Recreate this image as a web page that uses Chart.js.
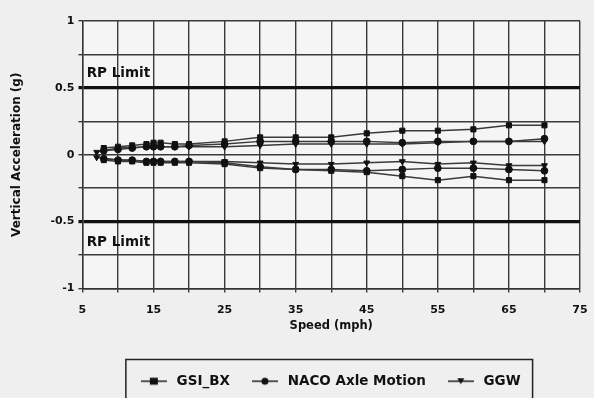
<!DOCTYPE html>
<html>
<head>
<meta charset="utf-8">
<script src="https://cdn.jsdelivr.net/npm/chart.js@4/dist/chart.umd.min.js"></script>
<style>
html,body{margin:0;padding:0;background:#efefef;}
#wrap{width:594px;height:398px;position:relative;}
</style>
</head>
<body>
<div id="wrap"><canvas id="c" width="594" height="398"></canvas></div>
<script>
// ---- data ----
const speeds = [8, 10, 12, 14, 15, 16, 18, 20, 25, 30, 35, 40, 45, 50, 55, 60, 65, 70];
const gsiUpper = [0.05, 0.06, 0.07, 0.08, 0.09, 0.09, 0.08, 0.08, 0.10, 0.13, 0.13, 0.13, 0.16, 0.18, 0.18, 0.19, 0.22, 0.22];
const gsiLower = [-0.04, -0.05, -0.05, -0.06, -0.06, -0.06, -0.06, -0.06, -0.07, -0.10, -0.11, -0.12, -0.13, -0.16, -0.19, -0.16, -0.19, -0.19];
const nacoUpper = [0.03, 0.04, 0.05, 0.06, 0.06, 0.06, 0.06, 0.07, 0.08, 0.10, 0.10, 0.10, 0.10, 0.09, 0.10, 0.10, 0.10, 0.12];
const nacoLower = [-0.03, -0.04, -0.04, -0.05, -0.05, -0.05, -0.05, -0.05, -0.06, -0.09, -0.11, -0.11, -0.12, -0.11, -0.10, -0.10, -0.11, -0.12];
const ggwSpeeds = [7, 10, 15, 20, 25, 30, 35, 40, 45, 50, 55, 60, 65, 70];
const ggwUpper = [0.02, 0.05, 0.06, 0.06, 0.06, 0.07, 0.08, 0.08, 0.08, 0.08, 0.09, 0.10, 0.10, 0.10];
const ggwLower = [-0.02, -0.04, -0.05, -0.05, -0.05, -0.06, -0.07, -0.07, -0.06, -0.05, -0.07, -0.06, -0.08, -0.08];
const seriesNames = ['GSI_BX', 'NACO Axle Motion', 'GGW'];
const limitValues = [0.5, -0.5];
const limitLabel = 'RP Limit';
const limitLabelPos = [{x: 5.6, y: 0.61}, {x: 5.6, y: -0.655}];
const xLabelTicks = [5, 15, 25, 35, 45, 55, 65, 75];
const yLabelTicks = [1, 0.5, 0, -0.5, -1];

const toPts = (xs, ys) => xs.map((x, i) => ({x: x, y: ys[i]}));

function legendIcon(style) {
  const cv = document.createElement('canvas');
  cv.width = 26; cv.height = 10;
  const g = cv.getContext('2d');
  g.strokeStyle = '#222'; g.lineWidth = 1.5;
  g.beginPath(); g.moveTo(0, 5); g.lineTo(26, 5); g.stroke();
  g.fillStyle = '#111';
  if (style === 'rect') { g.fillRect(9, 1.5, 8, 7); }
  else if (style === 'circle') { g.beginPath(); g.arc(13, 5, 3.5, 0, Math.PI * 2); g.fill(); }
  else { g.beginPath(); g.moveTo(9.5, 2); g.lineTo(16.5, 2); g.lineTo(13, 8); g.closePath(); g.fill(); }
  return cv;
}
const icons = [legendIcon('rect'), legendIcon('circle'), legendIcon('tri')];

function ds(label, data, style, rot, hidden) {
  return {
    label: label, data: data, showLine: true,
    borderColor: '#3a3a3a', borderWidth: 1.5,
    backgroundColor: '#111', pointBackgroundColor: '#111', pointBorderColor: '#111',
    pointStyle: style, pointRotation: rot || 0, pointRadius: style === 'rect' ? 3.6 : 3.4, pointBorderWidth: 1,
    legendHidden: hidden
  };
}

const datasets = [
  ds(seriesNames[0], toPts(speeds, gsiUpper), 'rect', 0, false),
  ds(seriesNames[1], toPts(speeds, nacoUpper), 'circle', 0, false),
  ds(seriesNames[2], toPts(ggwSpeeds, ggwUpper), 'triangle', 180, false),
  ds(seriesNames[0], toPts(speeds, gsiLower), 'rect', 0, true),
  ds(seriesNames[1], toPts(speeds, nacoLower), 'circle', 0, true),
  ds(seriesNames[2], toPts(ggwSpeeds, ggwLower), 'triangle', 180, true)
];

const FONT = "'DejaVu Sans', Verdana, sans-serif";

const decor = {
  id: 'decor',
  afterLayout(chart) {
    const lg = chart.legend, a = chart.chartArea;
    if (!lg || !lg.legendHitBoxes) return;
    const dx = (a.left + a.right) / 2 - (lg.left + lg.right) / 2 - 2;
    lg.left += dx; lg.right += dx;
    lg.legendHitBoxes.forEach(h => { h.left += dx; });
  },
  beforeDraw(chart) {
    const {ctx, chartArea: a} = chart;
    ctx.save();
    ctx.fillStyle = '#f5f5f5';
    ctx.fillRect(a.left, a.top, a.right - a.left, a.bottom - a.top);
    ctx.restore();
  },
  afterDatasetsDraw(chart) {
    const {ctx, scales} = chart;
    ctx.save();
    ctx.fillStyle = '#111';
    ctx.font = 'bold 13.5px ' + FONT;
    ctx.textAlign = 'left'; ctx.textBaseline = 'middle';
    limitLabelPos.forEach(p => ctx.fillText(limitLabel, scales.x.getPixelForValue(p.x), scales.y.getPixelForValue(p.y)));
    ctx.restore();
  },
  afterDraw(chart) {
    const lg = chart.legend;
    if (!lg || !lg.legendHitBoxes || !lg.legendHitBoxes.length) return;
    const hb = lg.legendHitBoxes;
    const l = hb[0].left - 12;
    const r = hb[hb.length - 1].left + hb[hb.length - 1].width + 12;
    const t = hb[0].top - 15;
    const ctx = chart.ctx;
    ctx.save();
    ctx.strokeStyle = '#222'; ctx.lineWidth = 1.5;
    ctx.beginPath();
    ctx.moveTo(l, 400); ctx.lineTo(l, t); ctx.lineTo(r, t); ctx.lineTo(r, 400);
    ctx.stroke();
    ctx.restore();
  }
};

new Chart(document.getElementById('c'), {
  type: 'scatter',
  data: {datasets: datasets},
  plugins: [decor],
  options: {
    responsive: false, animation: false,
    layout: {padding: {top: 21, right: 0, left: 10, bottom: 0}},
    plugins: {
      tooltip: {enabled: false},
      legend: {
        position: 'bottom',
        labels: {
          color: '#111', font: {family: FONT, size: 13.5, weight: 'bold'},
          usePointStyle: true, pointStyleWidth: 32, padding: 19,
          filter: (item, data) => !data.datasets[item.datasetIndex].legendHidden,
          generateLabels: (chart) => chart.data.datasets.map((d, i) => ({
            text: d.label, datasetIndex: i, pointStyle: icons[i % 3],
            fillStyle: '#111', strokeStyle: '#111', lineWidth: 0, fontColor: '#111', hidden: false
          }))
        }
      }
    },
    scales: {
      x: {
        type: 'linear', min: 5, max: 75,
        afterFit: s => { s.paddingRight = 14; },
        ticks: {
          stepSize: 5, autoSkip: false, maxRotation: 0, color: '#111', padding: 11,
          font: {family: FONT, size: 11, weight: 'bold'},
          callback: v => xLabelTicks.includes(v) ? String(v) : ''
        },
        grid: {color: '#3a3a3a', lineWidth: 1.4, tickLength: 4, drawTicks: true},
        border: {display: true, color: '#333', width: 1.4},
        title: {display: true, text: 'Speed (mph)', color: '#111', font: {family: FONT, size: 11.5, weight: 'bold'}, padding: {top: -9, bottom: 23}}
      },
      y: {
        min: -1, max: 1,
        ticks: {
          stepSize: 0.25, autoSkip: false, color: '#111', padding: 4,
          font: {family: FONT, size: 11, weight: 'bold'},
          callback: v => yLabelTicks.includes(v) ? String(v) : ''
        },
        grid: {
          color: ctx => limitValues.includes(ctx.tick && ctx.tick.value) ? '#111' : '#3a3a3a',
          lineWidth: ctx => limitValues.includes(ctx.tick && ctx.tick.value) ? 3.2 : 1.4,
          tickLength: 4
        },
        border: {display: true, color: '#333', width: 1.4},
        title: {display: true, text: 'Vertical Acceleration (g)', color: '#111', font: {family: FONT, size: 12, weight: 'bold'}, padding: {top: 0, bottom: 22}}
      }
    }
  }
});
</script>
</body>
</html>
